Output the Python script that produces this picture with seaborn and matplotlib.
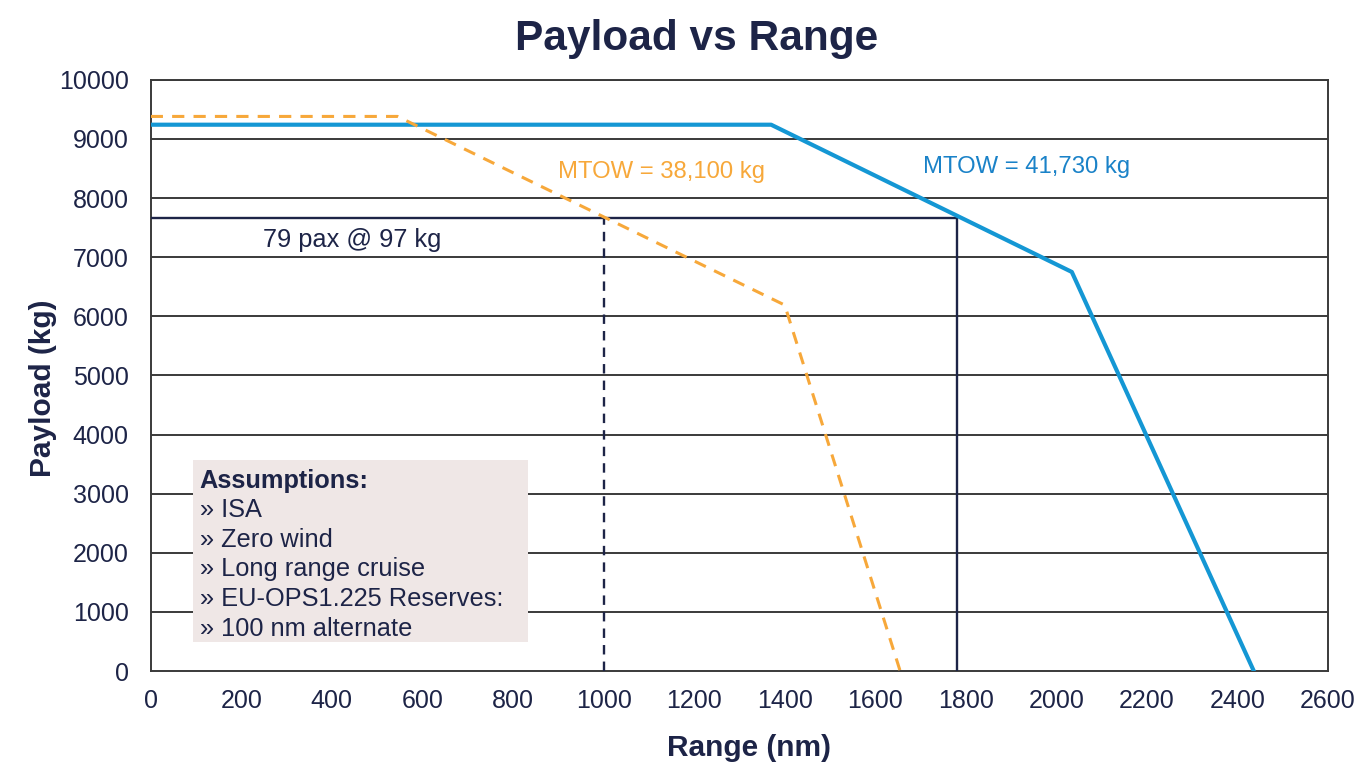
import numpy as np
import pandas as pd
import matplotlib.pyplot as plt
import seaborn as sns
from matplotlib.ticker import MultipleLocator

# ---- data ----
range_41730 = [0, 1370, 2034, 2436]
payload_41730 = [9240, 9240, 6750, 0]

range_38100 = [0, 545, 1400, 1655]
payload_38100 = [9380, 9380, 6190, 0]

pax_payload = 79 * 97          # 7663 kg
pax_range_38100 = 1000
pax_range_41730 = 1780

assumptions = ["» ISA", "» Zero wind", "» Long range cruise",
               "» EU-OPS1.225 Reserves:", "» 100 nm alternate"]

NAVY = "#1d2447"
BLUE = "#1497d4"
BLUE_TXT = "#1a82c8"
ORANGE = "#f7a83a"
GRID = "#3a3a3a"

sns.set_style("white")
plt.rcParams["font.family"] = ["Liberation Sans", "DejaVu Sans"]

df = pd.concat([
    pd.DataFrame({"range": range_41730, "payload": payload_41730, "mtow": "41730"}),
    pd.DataFrame({"range": range_38100, "payload": payload_38100, "mtow": "38100"}),
])

fig, ax = plt.subplots(figsize=(13.58, 7.67), dpi=100)
fig.subplots_adjust(left=0.111, right=0.978, bottom=0.125, top=0.896)

# gridlines
for yv in range(1000, 10001, 1000):
    ax.axhline(yv, color=GRID, lw=1.4, zorder=1)

# assumptions box
ax.add_patch(plt.Rectangle((93, 490), 739, 3080, facecolor="#efe7e6",
                           edgecolor="none", zorder=2))
ax.text(108, 3215, "Assumptions:", fontsize=18.3, fontweight="bold",
        color=NAVY, va="center", zorder=3)
for i, line in enumerate(assumptions):
    ax.text(108, 2720 - i * 500, line, fontsize=18.3, color=NAVY,
            va="center", zorder=3)

# 79 pax reference lines
ax.plot([0, pax_range_41730], [pax_payload, pax_payload], color=NAVY, lw=1.7, zorder=3)
ax.plot([pax_range_41730, pax_range_41730], [0, pax_payload], color=NAVY, lw=1.7, zorder=3)
ax.plot([pax_range_38100, pax_range_38100], [0, pax_payload], color=NAVY, lw=1.7,
        ls=(0, (4, 3)), zorder=3)

sns.lineplot(data=df[df.mtow == "41730"], x="range", y="payload", color=BLUE,
             lw=3, sort=False, ax=ax, zorder=4)
sns.lineplot(data=df[df.mtow == "38100"], x="range", y="payload", color=ORANGE,
             lw=2.2, sort=False, ax=ax, zorder=4, dashes=False)
ax.lines[-1].set_linestyle((0, (4, 3)))

ax.text(900, 8440, "MTOW = 38,100 kg", color=ORANGE, fontsize=17.2, va="center", zorder=5)
ax.text(1705, 8530, "MTOW = 41,730 kg", color=BLUE_TXT, fontsize=17.2, va="center", zorder=5)
ax.text(247, 7290, "79 pax @ 97 kg", color=NAVY, fontsize=18.3, va="center", zorder=5)

ax.set_xlim(0, 2600)
ax.set_ylim(0, 10000)
ax.xaxis.set_major_locator(MultipleLocator(200))
ax.xaxis.set_minor_locator(MultipleLocator(100))
ax.yaxis.set_major_locator(MultipleLocator(1000))
ax.yaxis.set_minor_locator(MultipleLocator(500))
ax.tick_params(axis="x", which="major", direction="out", length=7, width=1.3,
               color=GRID, labelsize=18, labelcolor=NAVY, pad=6)
ax.tick_params(axis="x", which="minor", direction="out", length=5, width=1.3, color=GRID)
ax.tick_params(axis="y", which="major", direction="out", length=7, width=1.4,
               color=GRID, labelsize=18, labelcolor=NAVY, pad=9)
ax.tick_params(axis="y", which="minor", direction="in", length=5, width=1.3, color=GRID)

for side in ["left", "bottom", "right", "top"]:
    ax.spines[side].set_color(GRID)
    ax.spines[side].set_linewidth(1.4)

ax.set_xlabel("Range (nm)", fontsize=21.5, fontweight="bold", color=NAVY)
ax.set_ylabel("Payload (kg)", fontsize=21.5, fontweight="bold", color=NAVY)
ax.xaxis.set_label_coords(0.508, -0.107)
ax.yaxis.set_label_coords(-0.080, 0.479)
fig.suptitle("Payload vs Range", x=0.513, y=0.975, fontsize=30.5,
             fontweight="bold", color=NAVY)

fig.savefig("out.png", dpi=100)
